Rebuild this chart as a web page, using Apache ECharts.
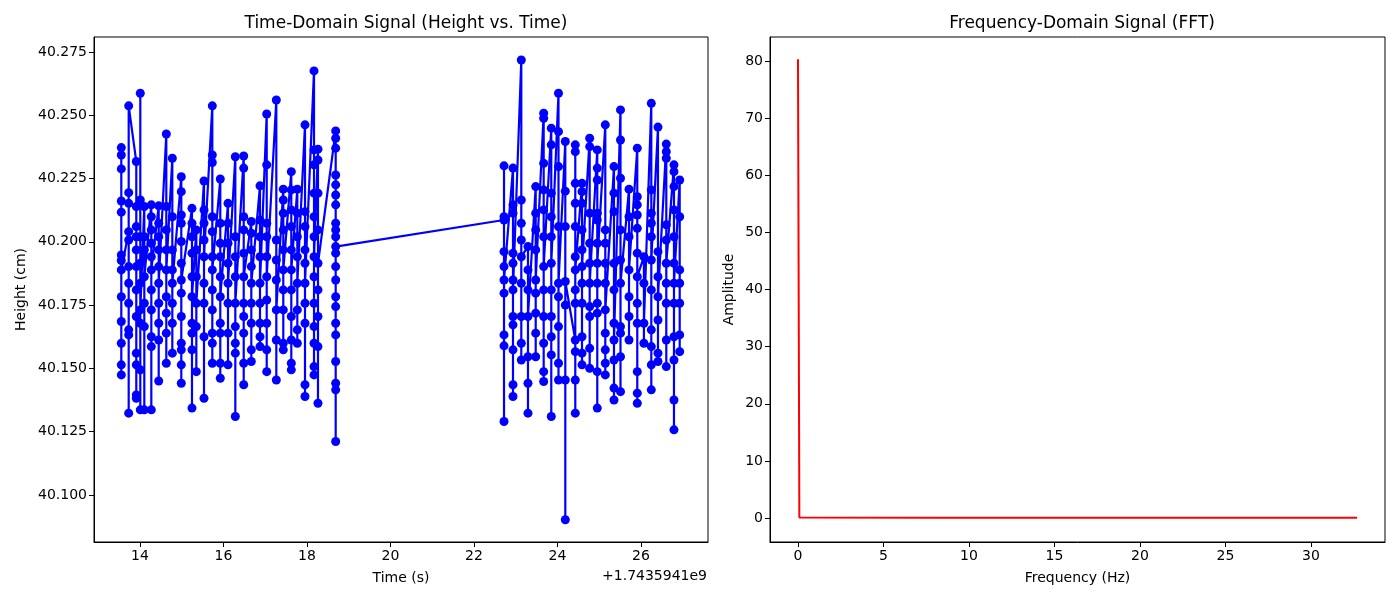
<!DOCTYPE html>
<html>
<head>
<meta charset="utf-8">
<script src="https://cdn.jsdelivr.net/npm/echarts@6/dist/echarts.min.js"></script>
<style>
html, body { margin: 0; padding: 0; background: #fff; }
#chart { width: 1400px; height: 600px; }
</style>
</head>
<body>
<div id="chart"></div>
<script>
// time offset shown by the axis: +1.7435941e9
var timeOffsetText = "+1.7435941e9";

// left cluster: one time per sample group, heights read per group
var leftTimes = [13.552, 13.729, 13.911, 14.007, 14.103, 14.271, 14.448, 14.630, 14.774, 14.989,
    15.245, 15.349, 15.533, 15.732, 15.923, 16.108, 16.283, 16.484, 16.666, 16.874,
    17.035, 17.265, 17.432, 17.624, 17.768, 17.952, 18.168, 18.263, 18.687];
var leftHeights = [
    [40.1926, 40.2372, 40.1685, 40.2343, 40.1474, 40.2288, 40.1514, 40.2161, 40.1599, 40.2117, 40.1783, 40.1948, 40.1889],
    [40.2040, 40.1632, 40.2194, 40.1757, 40.2152, 40.1323, 40.2007, 40.1652, 40.1902, 40.1836, 40.2537],
    [40.2317, 40.1705, 40.2139, 40.1395, 40.2060, 40.1560, 40.2020, 40.1382, 40.1968, 40.1514, 40.1810, 40.1902],
    [40.1915, 40.2587, 40.1678, 40.2165, 40.1494, 40.2020, 40.1336, 40.1836, 40.1731],
    [40.2139, 40.1665, 40.2020, 40.1336, 40.1968, 40.1757, 40.1862],
    [40.2146, 40.1586, 40.2099, 40.1336, 40.2047, 40.1625, 40.1994, 40.1731, 40.1941, 40.1810, 40.1889],
    [40.2142, 40.1757, 40.2073, 40.1450, 40.2020, 40.1612, 40.1968, 40.1678, 40.1902, 40.1836],
    [40.2426, 40.1718, 40.2139, 40.1520, 40.2047, 40.1639, 40.1968, 40.1783, 40.1889],
    [40.2330, 40.1678, 40.2099, 40.1560, 40.1968, 40.1757, 40.1889, 40.1836],
    [40.2257, 40.1705, 40.2198, 40.1441, 40.2106, 40.1573, 40.2073, 40.1599, 40.2001, 40.1514, 40.1915, 40.1797, 40.1849],
    [40.2132, 40.1639, 40.2073, 40.1343, 40.2020, 40.1573, 40.1955, 40.1678, 40.1862, 40.1783],
    [40.2047, 40.1665, 40.1968, 40.1487, 40.1862, 40.1757],
    [40.2240, 40.1625, 40.2126, 40.1382, 40.2073, 40.1757, 40.2007, 40.1836, 40.1941],
    [40.2537, 40.1810, 40.2343, 40.1520, 40.2313, 40.1639, 40.2099, 40.1599, 40.2040, 40.1731, 40.1941, 40.1889],
    [40.2248, 40.1678, 40.2073, 40.1461, 40.1994, 40.1520, 40.1941, 40.1639, 40.1862, 40.1783],
    [40.2152, 40.1757, 40.2073, 40.1514, 40.1994, 40.1639, 40.1915, 40.1836],
    [40.2336, 40.1665, 40.2020, 40.1310, 40.1941, 40.1560, 40.1862, 40.1599, 40.1757],
    [40.2339, 40.1705, 40.2291, 40.1435, 40.2099, 40.1520, 40.2047, 40.1639, 40.1955, 40.1757, 40.1862],
    [40.2080, 40.1678, 40.2034, 40.1527, 40.1968, 40.1573, 40.1902, 40.1757, 40.1836],
    [40.2221, 40.1757, 40.2086, 40.1586, 40.2020, 40.1625, 40.1941, 40.1678, 40.1836],
    [40.2505, 40.1770, 40.2304, 40.1487, 40.2073, 40.1573, 40.2020, 40.1678, 40.1941, 40.1862],
    [40.2560, 40.1849, 40.2007, 40.1454, 40.1928, 40.1612, 40.1731],
    [40.2208, 40.1731, 40.2165, 40.1573, 40.2113, 40.1599, 40.2047, 40.1810, 40.1968, 40.1889],
    [40.2277, 40.1705, 40.2205, 40.1494, 40.2126, 40.1520, 40.2060, 40.1612, 40.1968, 40.1810, 40.1889],
    [40.2208, 40.1731, 40.2113, 40.1599, 40.2020, 40.1652, 40.1941, 40.1836],
    [40.2462, 40.1757, 40.2119, 40.1389, 40.2060, 40.1435, 40.1968, 40.1678, 40.1915, 40.1836],
    [40.2675, 40.1757, 40.2363, 40.1474, 40.2304, 40.1507, 40.2192, 40.1599, 40.2099, 40.1665, 40.2020, 40.1862, 40.1941],
    [40.2366, 40.1810, 40.2323, 40.1362, 40.2192, 40.1586, 40.2047, 40.1705, 40.1915],
    [40.2438, 40.1744, 40.2409, 40.1211, 40.2370, 40.1441, 40.2264, 40.1415, 40.2225, 40.1527, 40.2185,
     40.1632, 40.2146, 40.1678, 40.2073, 40.1783, 40.2047, 40.1849, 40.2020, 40.1902, 40.1955, 40.1981]
];

// right cluster
var rightTimes = [22.719, 22.934, 23.133, 23.293, 23.478, 23.669, 23.851, 24.024, 24.187, 24.426,
    24.587, 24.771, 24.953, 25.145, 25.353, 25.509, 25.713, 25.911, 26.070, 26.247,
    26.407, 26.606, 26.790, 26.927];
var rightHeights = [
    [40.2086, 40.1589, 40.2300, 40.1290, 40.2099, 40.1632, 40.1961, 40.1797, 40.1902, 40.1849],
    [40.2291, 40.1573, 40.2146, 40.1389, 40.2113, 40.1435, 40.1955, 40.1672, 40.1915, 40.1705, 40.1849, 40.1810],
    [40.2718, 40.1705, 40.2165, 40.1533, 40.2073, 40.1599, 40.2007, 40.1836, 40.1941],
    [40.1981, 40.1546, 40.1889, 40.1323, 40.1810, 40.1441, 40.1705],
    [40.2218, 40.1639, 40.2113, 40.1546, 40.2047, 40.1718, 40.1968, 40.1797, 40.1849],
    [40.2508, 40.1810, 40.2488, 40.1487, 40.2310, 40.1448, 40.2205, 40.1599, 40.2126, 40.1705, 40.2020, 40.1902],
    [40.2449, 40.1705, 40.2383, 40.1310, 40.2192, 40.1553, 40.2099, 40.1625, 40.2020, 40.1810, 40.1915],
    [40.2587, 40.1665, 40.2435, 40.1454, 40.2297, 40.1520, 40.2060, 40.1783, 40.1836],
    [40.2396, 40.1750, 40.2200, 40.1454, 40.2060, 40.0902, 40.1843],
    [40.1612, 40.2383, 40.1566, 40.2356, 40.1454, 40.2231, 40.1323, 40.2152, 40.1757, 40.2060, 40.1810, 40.1941, 40.1889],
    [40.2231, 40.1625, 40.2198, 40.1514, 40.2152, 40.1560, 40.2047, 40.1757, 40.1968, 40.1836, 40.1902],
    [40.2409, 40.1705, 40.2376, 40.1500, 40.2113, 40.1579, 40.1994, 40.1744, 40.1915, 40.1836],
    [40.2363, 40.1718, 40.2291, 40.1343, 40.2244, 40.1487, 40.2113, 40.1757, 40.2086, 40.1836, 40.1994, 40.1915],
    [40.2462, 40.1639, 40.2047, 40.1474, 40.1994, 40.1520, 40.1915, 40.1573, 40.1836, 40.1731],
    [40.2297, 40.1678, 40.2192, 40.1375, 40.2119, 40.1422, 40.1915, 40.1533, 40.1810, 40.1612],
    [40.2521, 40.1665, 40.2402, 40.1408, 40.2251, 40.1546, 40.2047, 40.1639, 40.1928, 40.1836],
    [40.2208, 40.1705, 40.2099, 40.1612, 40.2020, 40.1783, 40.1889],
    [40.2370, 40.1678, 40.2178, 40.1362, 40.2146, 40.1402, 40.2106, 40.1487, 40.2053, 40.1757, 40.1955, 40.1862],
    [40.1941, 40.1599, 40.1836, 40.1678],
    [40.2547, 40.1652, 40.2205, 40.1415, 40.2113, 40.1514, 40.2073, 40.1586, 40.2020, 40.1810, 40.1928],
    [40.2453, 40.1691, 40.1961, 40.1527, 40.1862, 40.1560, 40.1783],
    [40.2386, 40.1612, 40.2356, 40.1507, 40.2330, 40.1757, 40.2067, 40.1836, 40.2007, 40.1915],
    [40.2304, 40.1625, 40.2277, 40.1257, 40.2218, 40.1375, 40.2126, 40.1533, 40.2020, 40.1757, 40.1915, 40.1836],
    [40.2244, 40.1632, 40.2099, 40.1566, 40.1889, 40.1757, 40.1836]
];

// FFT
var fftFreqs = [0, 0.08, 8, 16, 24, 32.7];
var fftAmps = [80.3, 0.1, 0.05, 0.04, 0.04, 0.04];

// tick labels
var timeTicks = [14, 16, 18, 20, 22, 24, 26];
var heightTicks = [40.100, 40.125, 40.150, 40.175, 40.200, 40.225, 40.250, 40.275];
var freqTicks = [0, 5, 10, 15, 20, 25, 30];
var ampTicks = [0, 10, 20, 30, 40, 50, 60, 70, 80];

var FONT = "DejaVu Sans";

function buildSignal() {
    var data = [];
    var groups = [[leftTimes, leftHeights], [rightTimes, rightHeights]];
    groups.forEach(function (g) {
        g[0].forEach(function (t, i) {
            g[1][i].forEach(function (h) {
                data.push([t, h]);
            });
        });
    });
    return data;
}

function buildFft() {
    return fftFreqs.map(function (f, i) { return [f, fftAmps[i]]; });
}

function valueAxis(gridIndex, min, max, ticks, fmt, name, nameGap) {
    return {
        type: 'value',
        gridIndex: gridIndex,
        min: min,
        max: max,
        name: name,
        nameLocation: 'middle',
        nameGap: nameGap,
        nameTextStyle: { color: '#000', fontSize: 14, fontFamily: FONT },
        splitLine: { show: false },
        axisLine: { show: true, onZero: false, lineStyle: { color: '#000', width: 1 } },
        axisTick: {
            show: true,
            customValues: ticks,
            length: 5,
            lineStyle: { color: '#000', width: 1 }
        },
        axisLabel: {
            show: true,
            customValues: ticks,
            color: '#000',
            fontSize: 14,
            fontFamily: FONT,
            margin: 7,
            formatter: fmt
        }
    };
}

var chart = echarts.init(document.getElementById('chart'), null, { renderer: 'canvas' });

var option = {
    backgroundColor: '#fff',
    animation: false,
    title: [
        {
            text: 'Time-Domain Signal (Height vs. Time)',
            left: 401, top: 10, textAlign: 'center',
            textStyle: { color: '#000', fontSize: 17, fontWeight: 'normal', fontFamily: FONT }
        },
        {
            text: 'Frequency-Domain Signal (FFT)',
            left: 1077, top: 10, textAlign: 'center',
            textStyle: { color: '#000', fontSize: 17, fontWeight: 'normal', fontFamily: FONT }
        }
    ],
    grid: [
        { left: 94, right: 692, top: 37, bottom: 58, show: true, borderColor: '#000', borderWidth: 1, backgroundColor: 'transparent' },
        { left: 770, right: 15, top: 37, bottom: 58, show: true, borderColor: '#000', borderWidth: 1, backgroundColor: 'transparent' }
    ],
    xAxis: [
        valueAxis(0, 12.898, 27.605, timeTicks, function (v) { return String(v); }, 'Time (s)', 29),
        valueAxis(1, -1.637, 34.33, freqTicks, function (v) { return String(v); }, 'Frequency (Hz)', 29)
    ],
    yAxis: [
        valueAxis(0, 40.0814, 40.2809, heightTicks, function (v) { return v.toFixed(3); }, 'Height (cm)', 66),
        valueAxis(1, -4.2, 84.2, ampTicks, function (v) { return String(v); }, 'Amplitude', 34)
    ],
    graphic: [
        {
            type: 'text',
            right: 1400 - 707,
            top: 569,
            style: { text: timeOffsetText, fill: '#000', fontSize: 14, fontFamily: FONT }
        }
    ],
    series: [
        {
            type: 'line',
            xAxisIndex: 0,
            yAxisIndex: 0,
            data: buildSignal(),
            symbol: 'circle',
            symbolSize: 9,
            showSymbol: true,
            clip: true,
            itemStyle: { color: '#0000ff' },
            lineStyle: { color: '#0000ff', width: 2.2 },
            emphasis: { disabled: true }
        },
        {
            type: 'line',
            xAxisIndex: 1,
            yAxisIndex: 1,
            data: buildFft(),
            showSymbol: false,
            symbol: 'none',
            itemStyle: { color: '#ff0000' },
            lineStyle: { color: '#ff0000', width: 2 },
            emphasis: { disabled: true }
        }
    ]
};

chart.setOption(option);
</script>
</body>
</html>
